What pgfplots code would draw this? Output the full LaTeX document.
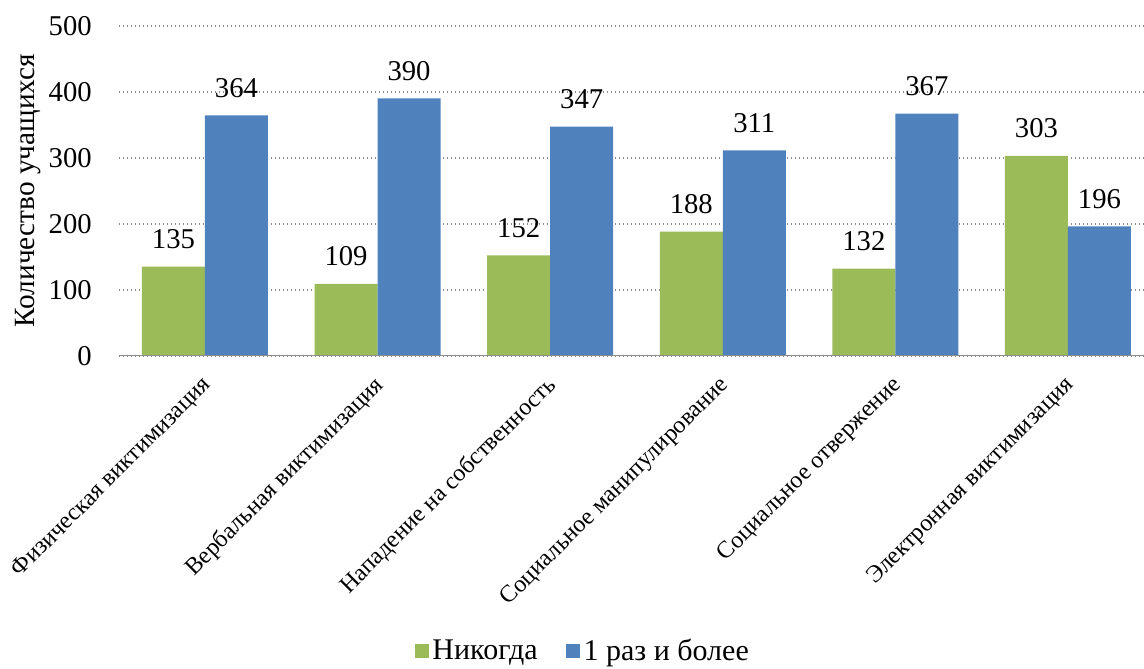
\documentclass[border=0pt]{standalone}
\usepackage{fontspec}
\setmainfont{Liberation Serif}[Ligatures=TeX]
\newfontfamily\tnr{Liberation Serif}
\usepackage{pgfplots}
\pgfplotsset{compat=1.18}
\definecolor{cgreen}{HTML}{9BBB59}
\definecolor{cblue}{HTML}{4F81BD}
\definecolor{cgrid}{HTML}{8C8C8C}
\begin{document}
\begin{tikzpicture}
\begin{axis}[
  scale only axis,
  width=776.7pt, height=247.5pt,
  xmin=-0.5, xmax=5.5, ymin=0, ymax=500,
  ytick={0,100,...,500},
  xtick={0,...,5},
  xticklabels={Физическая виктимизация, Вербальная виктимизация, Нападение на собственность, Социальное манипулирование, Социальное отвержение, Электронная виктимизация},
  major tick length=0pt,
  axis line style={draw=none},
  ymajorgrids,
  grid style={cgrid, line width=1.3pt, dash pattern=on 1.3pt off 1.7pt},
  /pgf/number format/assume math mode=true,
  yticklabel style={font=\tnr\fontsize{21.5}{25}\selectfont, anchor=east, inner sep=0pt, xshift=-20pt},
  xticklabel style={font=\tnr\fontsize{18}{21}\selectfont, inner sep=0pt, xshift=2pt, yshift=-19.5pt, rotate=45, anchor=east},
  ylabel={Количество учащихся},
  ylabel style={font=\tnr\fontsize{22}{26}\selectfont, at={(axis description cs:-0.0876,0.5)}, anchor=center},
  ybar=0pt, bar width=47.25pt,
  nodes near coords,
  every node near coord/.append style={font=\tnr\fontsize{21.5}{25}\selectfont, anchor=south, inner sep=0pt, yshift=13pt, text=black},
  legend style={at={(axis description cs:0.449,-0.895)}, anchor=center, draw=none, legend columns=2, font=\tnr\fontsize{22.5}{26}\selectfont, nodes={inner sep=2.5pt}, /tikz/every even column/.append style={column sep=19pt}},
  legend image code/.code={\fill[#1,/tikz/.cd] (0pt,-5.25pt) rectangle (10.5pt,5.25pt);},
]
\addplot[fill=cgreen, draw=none] coordinates {(0,135) (1,109) (2,152) (3,188) (4,132) (5,303)};
\addplot[fill=cblue, draw=none] coordinates {(0,364) (1,390) (2,347) (3,311) (4,367) (5,196)};
\legend{Никогда, 1 раз и более}
\draw[cgrid, line width=1.5pt] (axis cs:-0.5,0) -- (axis cs:5.5,0);
\end{axis}
\pgfresetboundingbox
\useasboundingbox (-89pt,-234.2pt) rectangle (769pt,266.8pt);
\end{tikzpicture}
\end{document}
